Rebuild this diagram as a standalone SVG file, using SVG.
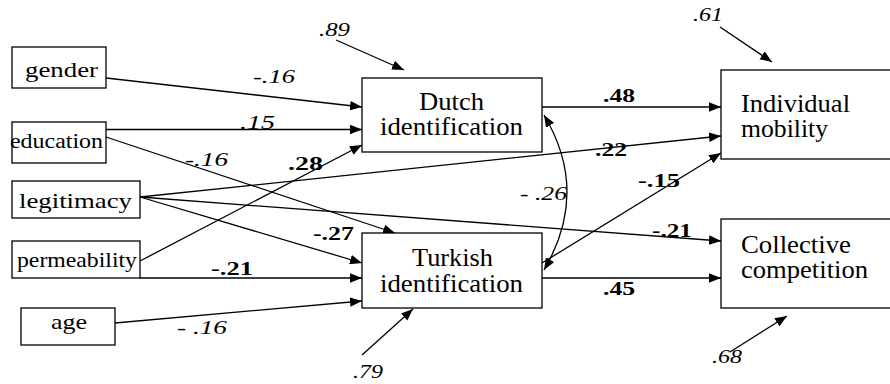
<svg xmlns="http://www.w3.org/2000/svg" width="890" height="384" viewBox="0 0 890 384">
<style>
.box{fill:#fff;stroke:#000;stroke-width:1.3}
.t{fill:#000}
.n{font-size:21px}
.b{font-size:25px}
.i{font-size:19px;font-style:italic}
.k{font-size:19px;font-weight:bold}
.c{fill:none;stroke:#000;stroke-width:1.3}
</style>
<defs>
<marker id="ah" markerUnits="userSpaceOnUse" markerWidth="12" markerHeight="10" refX="10" refY="4" orient="auto-start-reverse" viewBox="0 0 10 8">
<path d="M0,0 L10,4 L0,8 z" fill="#000"/>
</marker>
</defs>
<g id="connectors">
<line class="c" x1="106" y1="78" x2="362" y2="107" marker-end="url(#ah)"/>
<line class="c" x1="106" y1="129.5" x2="362" y2="129.5" marker-end="url(#ah)"/>
<line class="c" x1="106" y1="137" x2="395" y2="233" marker-end="url(#ah)"/>
<line class="c" x1="140" y1="197" x2="721" y2="136" marker-end="url(#ah)"/>
<line class="c" x1="140" y1="197" x2="721" y2="241" marker-end="url(#ah)"/>
<line class="c" x1="140" y1="197" x2="362" y2="263" marker-end="url(#ah)"/>
<line class="c" x1="140" y1="261" x2="362" y2="145" marker-end="url(#ah)"/>
<line class="c" x1="140" y1="278" x2="362" y2="278" marker-end="url(#ah)"/>
<line class="c" x1="115" y1="323" x2="362" y2="301" marker-end="url(#ah)"/>
<line class="c" x1="542" y1="107" x2="721" y2="107" marker-end="url(#ah)"/>
<line class="c" x1="542" y1="278" x2="721" y2="278" marker-end="url(#ah)"/>
<line class="c" x1="542" y1="263" x2="721" y2="153" marker-end="url(#ah)"/>
<path class="c" d="M544,115 Q590,192 544,270" marker-start="url(#ah)" marker-end="url(#ah)"/>
<line class="c" x1="336" y1="40" x2="404" y2="70" marker-end="url(#ah)"/>
<line class="c" x1="362" y1="355" x2="413" y2="309" marker-end="url(#ah)"/>
<line class="c" x1="720" y1="27" x2="772" y2="62" marker-end="url(#ah)"/>
<line class="c" x1="730" y1="352" x2="787" y2="316" marker-end="url(#ah)"/>
</g>
<g font-family="'Liberation Serif', 'DejaVu Serif', serif">
<g id="gender"><rect class="box" x="12" y="47" width="94" height="41"/><text class="t n" x="25" y="77" textLength="73" lengthAdjust="spacingAndGlyphs">gender</text></g>
<g id="education"><rect class="box" x="12" y="122" width="94" height="41"/><text class="t n" x="10" y="148" font-size="20" textLength="93" lengthAdjust="spacingAndGlyphs">education</text></g>
<g id="legitimacy"><rect class="box" x="12" y="181" width="128" height="37"/><text class="t n" x="19" y="208" textLength="113" lengthAdjust="spacingAndGlyphs">legitimacy</text></g>
<g id="permeability"><rect class="box" x="12" y="241" width="128" height="37"/><text class="t n" x="17" y="267" font-size="19" textLength="120" lengthAdjust="spacingAndGlyphs">permeability</text></g>
<g id="age"><rect class="box" x="21" y="308" width="94" height="37"/><text class="t n" x="51" y="329" textLength="36" lengthAdjust="spacingAndGlyphs">age</text></g>
<g id="dutch"><rect class="box" x="362" y="78" width="180" height="74"/><text class="t b" x="419" y="110" textLength="65" lengthAdjust="spacingAndGlyphs">Dutch</text><text class="t b" x="380" y="135" textLength="143" lengthAdjust="spacingAndGlyphs">identification</text></g>
<g id="turkish"><rect class="box" x="362" y="233" width="180" height="75"/><text class="t b" x="412" y="266" textLength="81" lengthAdjust="spacingAndGlyphs">Turkish</text><text class="t b" x="380" y="292" textLength="143" lengthAdjust="spacingAndGlyphs">identification</text></g>
<g id="individual"><rect class="box" x="721" y="70" width="170" height="89"/><text class="t b" x="741" y="112" textLength="109" lengthAdjust="spacingAndGlyphs">Individual</text><text class="t b" x="741" y="137" textLength="87" lengthAdjust="spacingAndGlyphs">mobility</text></g>
<g id="collective"><rect class="box" x="721" y="219" width="170" height="89"/><text class="t b" x="741" y="253" textLength="110" lengthAdjust="spacingAndGlyphs">Collective</text><text class="t b" x="741" y="278" textLength="127" lengthAdjust="spacingAndGlyphs">competition</text></g>
<g id="labels">
<text class="t i" x="253" y="83" textLength="42" lengthAdjust="spacingAndGlyphs">-.16</text>
<text class="t i" x="240" y="129" textLength="35" lengthAdjust="spacingAndGlyphs">.15</text>
<text class="t i" x="185" y="166" textLength="43" lengthAdjust="spacingAndGlyphs">-.16</text>
<text class="t k" x="288" y="170" textLength="35" lengthAdjust="spacingAndGlyphs">.28</text>
<text class="t i" x="319" y="36" textLength="31" lengthAdjust="spacingAndGlyphs">.89</text>
<text class="t i" x="520" y="200" textLength="47" lengthAdjust="spacingAndGlyphs">- .26</text>
<text class="t k" x="313" y="240" textLength="41" lengthAdjust="spacingAndGlyphs">-.27</text>
<text class="t k" x="211" y="275" textLength="42" lengthAdjust="spacingAndGlyphs">-.21</text>
<text class="t i" x="177" y="334" textLength="50" lengthAdjust="spacingAndGlyphs">- .16</text>
<text class="t i" x="353" y="378" textLength="30" lengthAdjust="spacingAndGlyphs">.79</text>
<text class="t k" x="603" y="102" textLength="32" lengthAdjust="spacingAndGlyphs">.48</text>
<text class="t k" x="595" y="156" textLength="32" lengthAdjust="spacingAndGlyphs">.22</text>
<text class="t k" x="638" y="187" textLength="42" lengthAdjust="spacingAndGlyphs">-.15</text>
<text class="t i" x="693" y="21" textLength="30" lengthAdjust="spacingAndGlyphs">.61</text>
<text class="t k" x="652" y="237" textLength="40" lengthAdjust="spacingAndGlyphs">-.21</text>
<text class="t k" x="603" y="295" textLength="32" lengthAdjust="spacingAndGlyphs">.45</text>
<text class="t i" x="712" y="363" textLength="30" lengthAdjust="spacingAndGlyphs">.68</text>
</g>
</g>
</svg>
